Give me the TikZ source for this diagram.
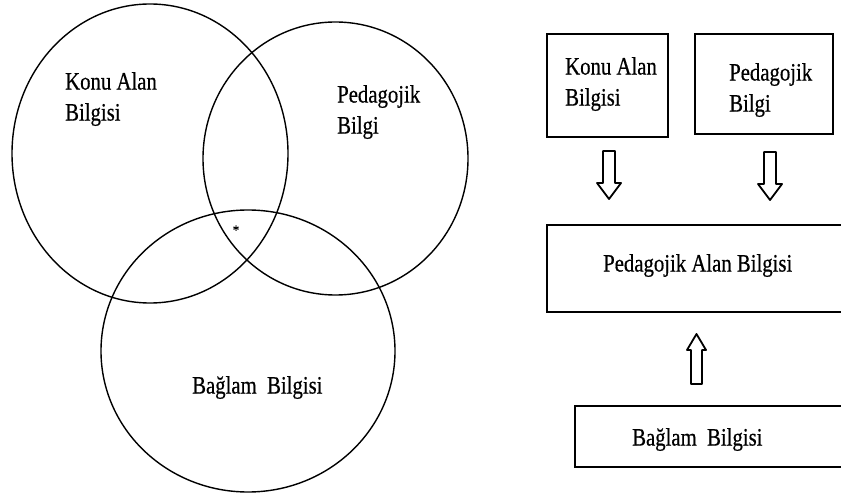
\documentclass[tikz,border=0pt]{standalone}
\usepackage{fontspec}
\setmainfont{Liberation Serif}[FakeBold=0.6]
\usepackage{graphicx}
\newcommand{\nrw}[1]{\scalebox{0.83}[1]{#1}}
\begin{document}
\begin{tikzpicture}[x=1pt,y=-1pt,
  lbl/.style={font=\fontsize{25}{31}\selectfont, inner sep=0pt, align=left, anchor=north west},
  circ/.style={draw=black, line width=1.4pt},
  bx/.style={draw=black, line width=1.8pt},
  bigarrow/.style={draw=black, line width=1.8pt, fill=white, line join=round}]
\useasboundingbox (0,0) rectangle (841,502);
\clip (0,0) rectangle (841,502);
% Venn diagram
\draw[circ] (150,153.5) ellipse [x radius=138, y radius=149.5];
\draw[circ] (335.5,158.5) ellipse [x radius=132.5, y radius=136.5];
\draw[circ] (248,351) ellipse [x radius=147, y radius=141];
\node[lbl] (vk) at (65,72) {\nrw{Konu Alan}\\\nrw{Bilgisi}};
\node[lbl] (vp) at (337,85) {\nrw{Pedagojik}\\\nrw{Bilgi}};
\node[lbl] (vb) at (192,376) {\nrw{Bağlam~ Bilgisi}};
\node[font=\fontsize{13}{15}\selectfont, inner sep=0pt] (star) at (236,230) {*};
% Boxes
\draw[bx] (547,34) rectangle (668,137);
\draw[bx] (695,34) rectangle (833,134);
\draw[bx] (547,225) rectangle (860,312);
\draw[bx] (575,406) rectangle (860,467);
\node[lbl] (bk) at (565,57) {\nrw{Konu Alan}\\\nrw{Bilgisi}};
\node[lbl] (bp) at (729,63) {\nrw{Pedagojik}\\\nrw{Bilgi}};
\node[lbl] (bpa) at (603,254) {\nrw{Pedagojik Alan Bilgisi}};
\node[lbl] (bb) at (632,428) {\nrw{Bağlam~ Bilgisi}};
% Arrows
\draw[bigarrow] (603,151) -- (615,151) -- (615,183) -- (621,183) -- (609,199) -- (597,183) -- (603,183) -- cycle;
\draw[bigarrow] (764,152) -- (776,152) -- (776,184) -- (782,184) -- (770,200) -- (758,184) -- (764,184) -- cycle;
\draw[bigarrow] (691,384) -- (702,384) -- (702,350) -- (706,350) -- (696.5,334) -- (687,350) -- (691,350) -- cycle;
\end{tikzpicture}
\end{document}
